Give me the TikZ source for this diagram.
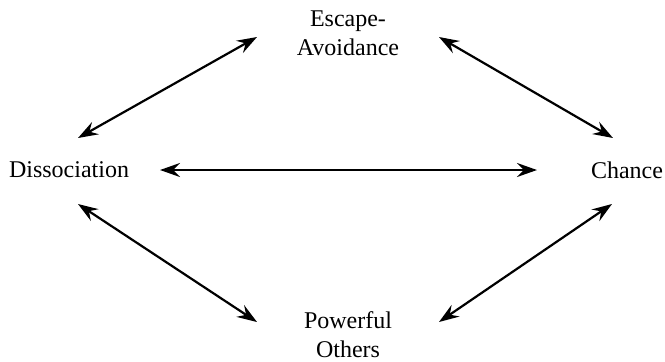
\documentclass[tikz,border=0pt]{standalone}
\usepackage{fontspec}
\setmainfont{Liberation Serif}
\usetikzlibrary{arrows.meta,calc}
\tikzset{
	term/.style={align=center, inner sep=0pt, font=\fontsize{12}{14.5}\selectfont},
	link/.style={{Stealth[length=10pt, width=7pt, inset=3.5pt]}-{Stealth[length=10pt, width=7pt, inset=3.5pt]}, line width=1.1pt}
}
\begin{document}
\begin{tikzpicture}[x=0.5pt, y=-0.5pt]
	\useasboundingbox (0,0) rectangle (665,361);
	\node[term] (esc) at (348,33) {Escape-\\Avoidance};
	\node[term] (dis) at (69,170) {Dissociation};
	\node[term] (cha) at (627,170) {Chance};
	\node[term] (pow) at (348,335) {Powerful\\Others};
	\foreach \a/\ax/\ay/\b/\bx/\by in {dis/9/-32/esc/-91/4, esc/91/4/cha/-14/-32, dis/91/0/cha/-90/0, dis/9/34/pow/-91/-13, pow/91/-13/cha/-15/34}{
		\draw[link] ($(\a)+(\ax,\ay)$) -- ($(\b)+(\bx,\by)$);
	}
\end{tikzpicture}
\end{document}
